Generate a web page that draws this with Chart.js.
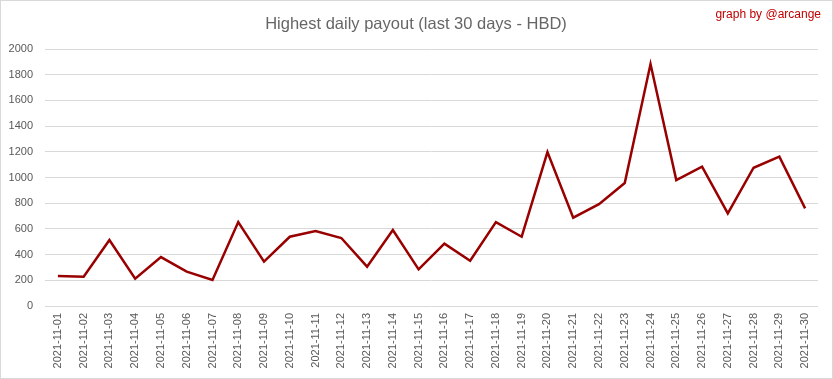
<!DOCTYPE html>
<html>
<head>
<meta charset="utf-8">
<script src="https://cdn.jsdelivr.net/npm/chart.js@4"></script>
<style>
    body { margin: 0; background: #fff; }
    #wrap { width: 833px; height: 379px; position: relative; }
</style>
</head>
<body>
<div id="wrap"><canvas id="payoutChart" width="833" height="379"></canvas></div>
<script>
const days = [
    "2021-11-01", "2021-11-02", "2021-11-03", "2021-11-04", "2021-11-05", "2021-11-06",
    "2021-11-07", "2021-11-08", "2021-11-09", "2021-11-10", "2021-11-11", "2021-11-12",
    "2021-11-13", "2021-11-14", "2021-11-15", "2021-11-16", "2021-11-17", "2021-11-18",
    "2021-11-19", "2021-11-20", "2021-11-21", "2021-11-22", "2021-11-23", "2021-11-24",
    "2021-11-25", "2021-11-26", "2021-11-27", "2021-11-28", "2021-11-29", "2021-11-30"
];
const payouts = [
    233, 227, 513, 212, 381, 267, 202, 653, 345, 539, 583, 529,
    306, 591, 285, 485, 352, 653, 539, 1198, 687, 793, 957, 1883,
    980, 1084, 721, 1076, 1162, 760
];
const yTicks = [0, 200, 400, 600, 800, 1000, 1200, 1400, 1600, 1800, 2000];

const chartTitle = "Highest daily payout (last 30 days - HBD)";
const credit = "graph by @arcange";

// title, credit and frame
const decorations = {
    id: "decorations",
    afterDraw(chart) {
        let ctx = chart.ctx;
        ctx.save();
        ctx.strokeStyle = "#d9d9d9";
        ctx.lineWidth = 1;
        ctx.strokeRect(0.5, 0.5, chart.width - 1, chart.height - 1);

        ctx.fillStyle = "#666666";
        ctx.font = "16.5px 'Liberation Sans'";
        ctx.textAlign = "center";
        ctx.textBaseline = "middle";
        ctx.fillText(chartTitle, 416, 24);

        ctx.fillStyle = "#c00000";
        ctx.font = "12px 'Liberation Sans'";
        ctx.textAlign = "right";
        ctx.fillText(credit, 821, 15);
        ctx.restore();
    }
};

new Chart(document.getElementById("payoutChart"), {
    type: "line",
    data: {
        labels: days,
        datasets: [{
            data: payouts,
            borderColor: "#990000",
            borderWidth: 2.5,
            pointRadius: 0,
            tension: 0,
            fill: false
        }]
    },
    options: {
        responsive: false,
        animation: false,
        layout: { padding: { left: 0, right: 15, top: 49, bottom: 0 } },
        plugins: {
            legend: { display: false },
            title: { display: false },
            tooltip: { enabled: false }
        },
        scales: {
            x: {
                offset: true,
                grid: { display: false, drawTicks: false },
                border: { display: false },
                ticks: {
                    color: "#595959",
                    font: { family: "Liberation Sans", size: 11 },
                    maxRotation: 90,
                    minRotation: 90,
                    autoSkip: false,
                    padding: 7
                },
                afterFit(scale) { scale.height = 73; }
            },
            y: {
                min: 0,
                max: 2000,
                afterBuildTicks(scale) { scale.ticks = yTicks.map(v => ({ value: v })); },
                grid: { color: "#d9d9d9", lineWidth: 1, drawTicks: false },
                border: { display: false },
                ticks: {
                    color: "#595959",
                    font: { family: "Liberation Sans", size: 11 },
                    padding: 12,
                    callback: v => String(v)
                },
                afterFit(scale) { scale.width = 45; }
            }
        }
    },
    plugins: [decorations]
});
</script>
</body>
</html>
